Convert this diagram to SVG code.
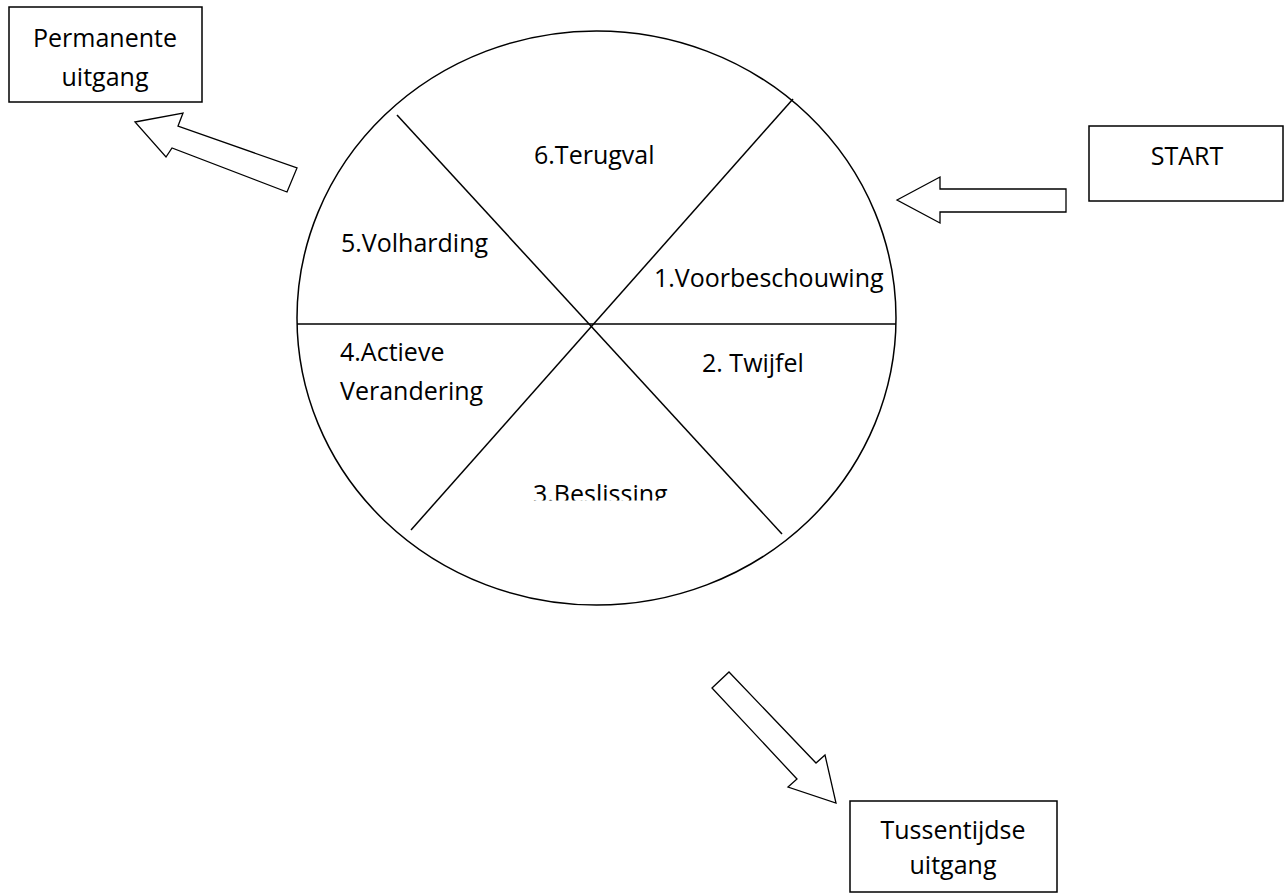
<svg xmlns="http://www.w3.org/2000/svg" width="1286" height="893" viewBox="0 0 1286 893">
<defs>
<style>
.box{fill:#fff;stroke:#000;stroke-width:1.5}
.ln{fill:none;stroke:#000;stroke-width:1.5}
.arr{fill:#fff;stroke:#000;stroke-width:1.3;stroke-linejoin:miter}
text{font-family:"Open Sans","Liberation Sans",sans-serif;font-size:25px;fill:#000}
.c{text-anchor:middle}
</style>
<clipPath id="clip3"><rect x="500" y="470" width="200" height="30.5"/></clipPath>
</defs>
<rect width="1286" height="893" fill="#fff"/>
<g id="wheel">
<ellipse class="ln" cx="596.5" cy="318" rx="299.5" ry="287"/>
<line class="ln" x1="297" y1="324" x2="896" y2="324"/>
<line class="ln" x1="397" y1="115" x2="782" y2="534"/>
<line class="ln" x1="793" y1="99" x2="411" y2="530"/>
<text x="534" y="164">6.Terugval</text>
<text x="341" y="252">5.Volharding</text>
<text x="654" y="287">1.Voorbeschouwing</text>
<text x="702" y="372">2. Twijfel</text>
<text x="340" y="361">4.Actieve</text>
<text x="340" y="400">Verandering</text>
<text x="533" y="503" clip-path="url(#clip3)">3.Beslissing</text>
</g>
<g id="permanente">
<rect class="box" x="9" y="7" width="193" height="95"/>
<text class="c" x="105" y="47">Permanente</text>
<text class="c" x="105" y="86">uitgang</text>
</g>
<g id="start">
<rect class="box" x="1089" y="126" width="194" height="75"/>
<text class="c" x="1187" y="165">START</text>
</g>
<g id="tussentijdse">
<rect class="box" x="850" y="801" width="207" height="91"/>
<text class="c" x="953" y="839">Tussentijdse</text>
<text class="c" x="953" y="874">uitgang</text>
</g>
<g id="connectors">
<polygon class="arr" points="135,122 183,113 178,126 297,168 287,192 172,148 166,157"/>
<polygon class="arr" points="897,200 940,177 940,189 1066,189 1066,212 940,212 940,223"/>
<polygon class="arr" points="712,688 729,672 816,763 825,755 836,803 788,787 797,779"/>
</g>
</svg>
